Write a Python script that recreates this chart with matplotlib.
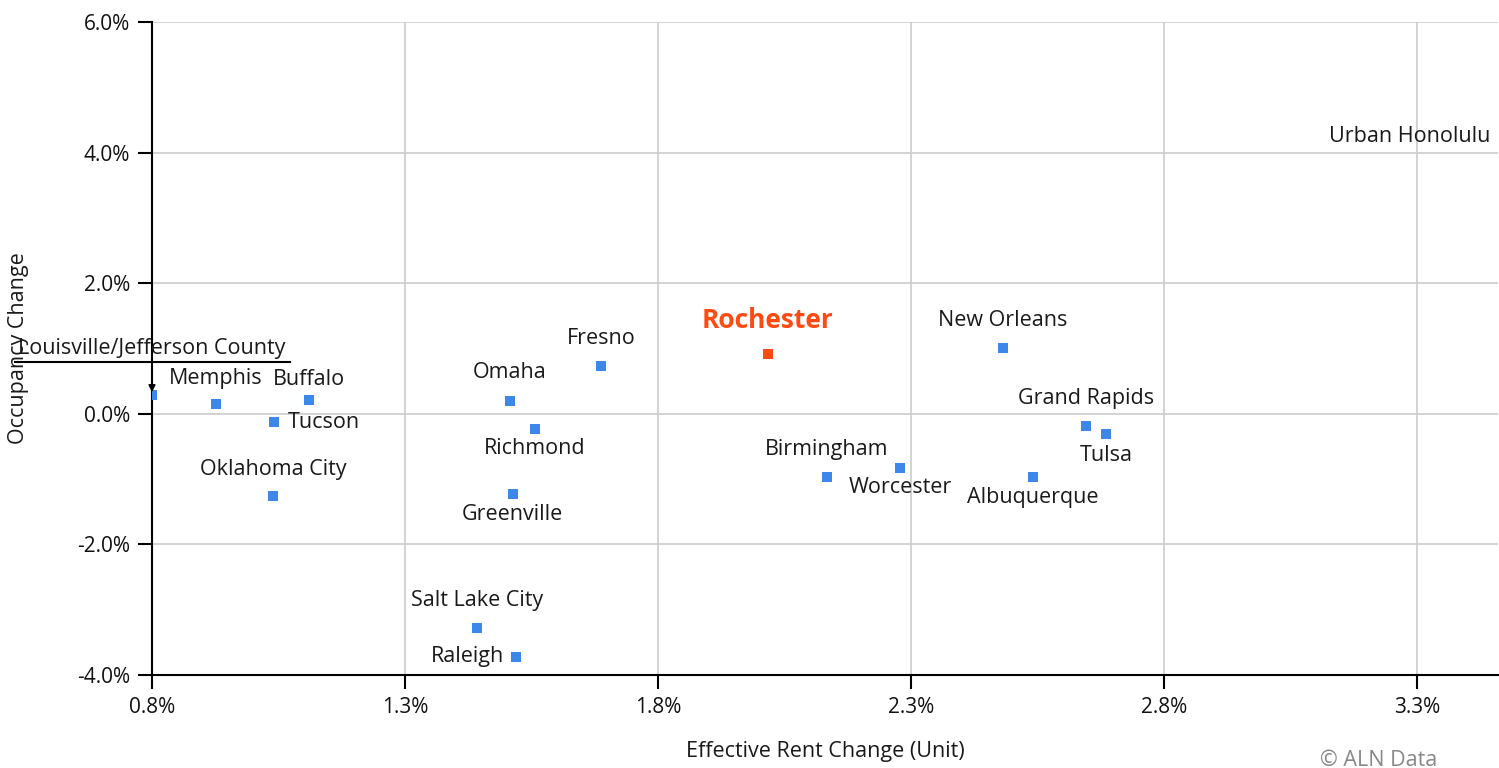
import matplotlib.pyplot as plt
from matplotlib.ticker import FuncFormatter

# data (percent)
cities = ["Louisville/Jefferson County", "Memphis", "Buffalo", "Tucson", "Oklahoma City",
          "Omaha", "Fresno", "Richmond", "Greenville", "Salt Lake City", "Raleigh",
          "Rochester", "Birmingham", "Worcester", "New Orleans", "Grand Rapids",
          "Tulsa", "Albuquerque", "Urban Honolulu"]
rent_change = [0.80, 0.926, 1.110, 1.041, 1.039,
               1.507, 1.687, 1.557, 1.513, 1.442, 1.519,
               2.017, 2.134, 2.278, 2.482, 2.646,
               2.685, 2.541, 3.60]
occ_change = [0.29, 0.15, 0.21, -0.13, -1.26,
              0.20, 0.73, -0.23, -1.23, -3.28, -3.72,
              0.92, -0.97, -0.83, 1.01, -0.19,
              -0.31, -0.97, 4.06]
highlight = "Rochester"

x_ticks = [0.8, 1.3, 1.8, 2.3, 2.8, 3.3]
y_ticks = [-4, -2, 0, 2, 4, 6]

# label placement (offset in pixels, alignment)
label_pos = {
    "Memphis": (0, 26, "center"), "Buffalo": (0, 21, "center"), "Tucson": (14, 0, "left"),
    "Oklahoma City": (0, 27, "center"), "Omaha": (0, 28, "center"), "Fresno": (0, 28, "center"),
    "Richmond": (0, -20, "center"), "Greenville": (0, -20, "center"),
    "Salt Lake City": (0, 27, "center"), "Raleigh": (-12, 0, "right"),
    "Rochester": (0, 33, "center"), "Birmingham": (0, 28, "center"),
    "Worcester": (0, -20, "center"), "New Orleans": (0, 27, "center"),
    "Grand Rapids": (0, 28, "center"), "Tulsa": (0, -21, "center"),
    "Albuquerque": (0, -20, "center"),
}

plt.rcParams['font.family'] = ['Open Sans', 'DejaVu Sans']
fig = plt.figure(figsize=(14.99, 7.68), dpi=100)
ax = fig.add_axes([152/1499, 1-675/768, 1346/1499, 653/768])

xmin, xmax = 0.8, 0.8 + 1346/506
ax.set_xlim(xmin, xmax)
ax.set_ylim(-4, 6)
ax.set_xticks(x_ticks)
ax.set_yticks(y_ticks)
ax.xaxis.set_major_formatter(FuncFormatter(lambda v, p: f"{v:.1f}%"))
ax.yaxis.set_major_formatter(FuncFormatter(lambda v, p: f"{v:.1f}%"))
ax.grid(True, color='#cccccc', linewidth=1.2)
ax.set_axisbelow(True)
for s in ['top', 'right']:
    ax.spines[s].set_visible(False)
for s in ['left', 'bottom']:
    ax.spines[s].set_linewidth(1.5)
ax.tick_params(length=10, width=1.5, labelsize=15, pad=6, colors='black', labelcolor='#111111')

blue = '#3d87ea'
orange = '#ff4a12'
text_color = '#1a1a1a'
for name, x, y in zip(cities, rent_change, occ_change):
    c = orange if name == highlight else blue
    ax.scatter([x], [y], marker='s', s=60, color=c, zorder=3, linewidths=0)
    if name in label_pos:
        dx, dy, ha = label_pos[name]
        if name == highlight:
            ax.annotate(name, (x, y), xytext=(dx, dy), textcoords='offset pixels',
                        ha=ha, va='center', fontsize=19, fontweight='bold', color=orange)
        else:
            ax.annotate(name, (x, y), xytext=(dx, dy), textcoords='offset pixels',
                        ha=ha, va='center', fontsize=15.5, color=text_color)
    elif name.startswith("Louisville"):
        # label with an underline and an arrow down to the point
        ax.annotate(name, (x, y), xytext=(0, 46), textcoords='offset pixels',
                    ha='center', va='center', fontsize=15.5, color=text_color,
                    annotation_clip=False)
        ax.annotate("", xy=(x, y + 0.04), xytext=(0, 33), textcoords='offset pixels',
                    arrowprops=dict(arrowstyle='-|>', color='black', lw=1.2,
                                    mutation_scale=10, shrinkA=0, shrinkB=0),
                    annotation_clip=False)
    else:
        ax.annotate(name, (xmax, y), xytext=(-8, 12), textcoords='offset pixels',
                    ha='right', va='center', fontsize=15.5, color=text_color)

# underline of the Louisville label
fig.add_artist(plt.Line2D([15/1499, 290/1499], [1-362/768, 1-362/768], color='black', lw=1.5))

ax.set_xlabel("Effective Rent Change (Unit)", fontsize=15.5, color=text_color)
ax.set_ylabel("Occupancy Change", fontsize=15.5, color=text_color)
ax.xaxis.set_label_coords(0.5, -(741 - 675) / 653)
ax.yaxis.set_label_coords(-(152 - 29) / 1346, 0.5)
fig.text(1320/1499, 1-760/768, "© ALN Data", fontsize=15.5, color='#888888', va='center')

fig.savefig("out.png", dpi=100)
